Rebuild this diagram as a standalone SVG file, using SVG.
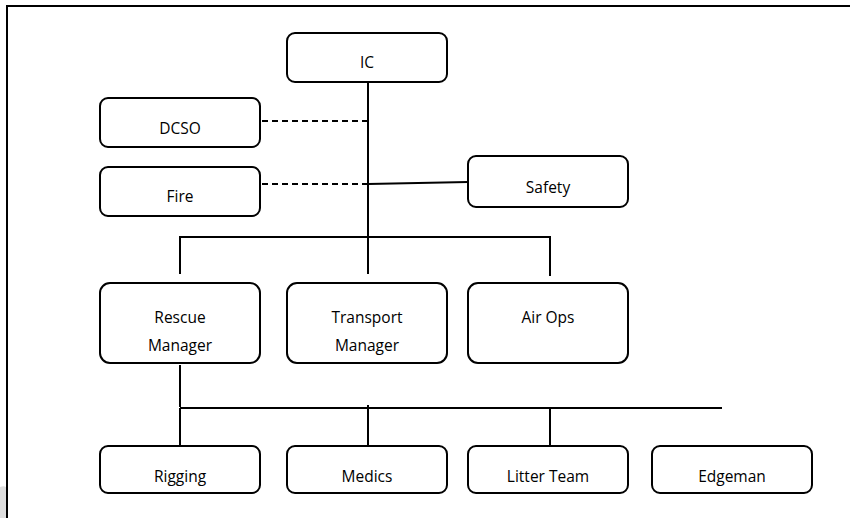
<svg xmlns="http://www.w3.org/2000/svg" width="850" height="518" viewBox="0 0 850 518">
<style>
.box{fill:#fff;stroke:#000;stroke-width:2}
.t{font-family:"Open Sans","Liberation Sans",Arial,sans-serif;font-size:15.5px;fill:#000;text-anchor:middle}
.ln{stroke:#000;stroke-width:2;fill:none}
.dash{stroke:#000;stroke-width:2;fill:none;stroke-dasharray:6 4}
</style>
<rect x="0" y="0" width="850" height="518" fill="#fff"/>
<path d="M0,487 Q5,485 7,488 L7,518 L0,518 Z" fill="#dedede"/>
<g id="frame">
<line class="ln" x1="6" y1="6" x2="850" y2="6"/>
<line class="ln" x1="7" y1="5" x2="7" y2="518"/>
</g>
<g id="connectors">
<line class="ln" x1="368" y1="82" x2="368" y2="274"/>
<line class="dash" x1="262" y1="121" x2="368" y2="121"/>
<line class="dash" x1="262" y1="184" x2="368" y2="184"/>
<line class="ln" x1="368" y1="184" x2="468" y2="182"/>
<polyline class="ln" points="180,274 180,237 550,237 550,276"/>
<line class="ln" x1="180" y1="365" x2="180" y2="407"/>
<line class="ln" x1="180" y1="408" x2="722" y2="408"/>
<line class="ln" x1="180" y1="408" x2="180" y2="446"/>
<line class="ln" x1="368" y1="405" x2="368" y2="446"/>
<line class="ln" x1="550" y1="408" x2="550" y2="447"/>
</g>
<g id="IC"><rect class="box" x="287" y="33" width="160" height="49" rx="8"/><text class="t" x="367" y="68">IC</text></g>
<g id="DCSO"><rect class="box" x="100" y="98" width="160" height="49" rx="8"/><text class="t" x="180" y="134">DCSO</text></g>
<g id="Fire"><rect class="box" x="100" y="167" width="160" height="49" rx="8"/><text class="t" x="180" y="202">Fire</text></g>
<g id="Safety"><rect class="box" x="468" y="156" width="160" height="51" rx="8"/><text class="t" x="548" y="193">Safety</text></g>
<g id="RescueManager"><rect class="box" x="100" y="283" width="160" height="80" rx="10"/><text class="t" x="180" y="323">Rescue</text><text class="t" x="180" y="351">Manager</text></g>
<g id="TransportManager"><rect class="box" x="287" y="283" width="160" height="80" rx="10"/><text class="t" x="367" y="323">Transport</text><text class="t" x="367" y="351">Manager</text></g>
<g id="AirOps"><rect class="box" x="468" y="283" width="160" height="80" rx="10"/><text class="t" x="548" y="323">Air Ops</text></g>
<g id="Rigging"><rect class="box" x="100" y="446" width="160" height="47" rx="8"/><text class="t" x="180" y="482">Rigging</text></g>
<g id="Medics"><rect class="box" x="287" y="446" width="160" height="47" rx="8"/><text class="t" x="367" y="482">Medics</text></g>
<g id="LitterTeam"><rect class="box" x="468" y="446" width="160" height="47" rx="8"/><text class="t" x="548" y="482">Litter Team</text></g>
<g id="Edgeman"><rect class="box" x="652" y="446" width="160" height="47" rx="8"/><text class="t" x="732" y="482">Edgeman</text></g>
</svg>
